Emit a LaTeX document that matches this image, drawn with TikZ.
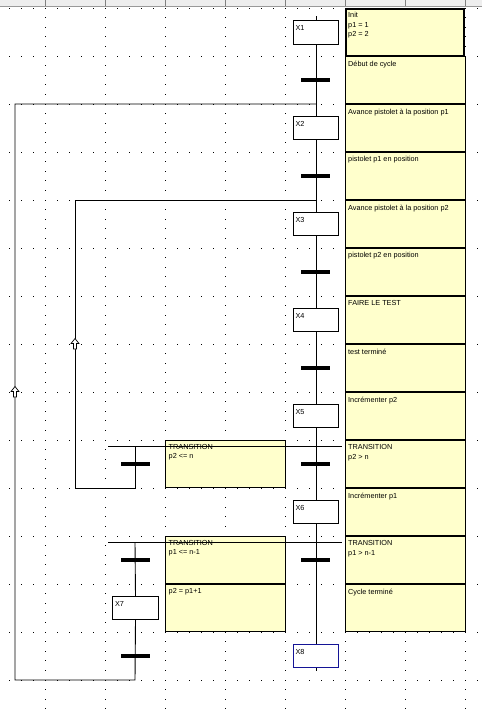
\documentclass[tikz,border=0pt]{standalone}
\usepackage{fontspec}
\setmainfont{Liberation Sans}
\definecolor{note}{RGB}{255,255,204}
\definecolor{hdr}{RGB}{238,238,238}
\definecolor{navyline}{RGB}{20,20,150}
\begin{document}
\begin{tikzpicture}[x=1pt,y=-1pt,
  wire/.style={line width=0.9pt,black},
  stepbox/.style={draw=black,line width=0.9pt,fill=white,minimum width=45.5pt,minimum height=23.5pt,inner sep=0pt},
  steplbl/.style={anchor=north west,inner sep=0pt,font=\fontsize{7.3}{9.6}\selectfont},
  tbar/.style={fill=black,minimum width=29pt,minimum height=4pt,inner sep=0pt},
  cbox/.style={draw=black,line width=0.9pt,fill=note},
  ctext/.style={anchor=north west,inner sep=0pt,align=left,font=\fontsize{7.3}{9.6}\selectfont},
  uparr/.pic={\draw[line width=0.7pt,fill=white] (0,-5.5) -- (4,-0.5) -- (1.5,-0.5) -- (1.5,5) -- (-1.5,5) -- (-1.5,-0.5) -- (-4,-0.5) -- cycle;}
]
\useasboundingbox (0,0) rectangle (482,710);
\fill[white] (0,0) rectangle (482,710);
% header bar
\fill[hdr] (0,0) rectangle (482,6.5);
\draw[gray!80,line width=0.8pt] (0,6.5) -- (482,6.5);
\foreach \x in {45,105,...,465} \draw[gray,line width=0.8pt] (\x,0) -- (\x,6);
% dot grid
\foreach \y in {8,56,...,680} \foreach \x in {9,21,...,477} \fill (\x-0.5,\y-0.5) rectangle ++(1,1);
\foreach \x in {45,105,...,465} \foreach \j in {1,...,73} \fill (\x-0.5,8+9.6*\j-0.5) rectangle ++(1,1);
% right comment boxes
\draw[cbox,line width=1.7pt] (345.8,8.8) rectangle (464.2,55.4);
\node[ctext] at (348,12) {Init\\p1 = 1\\p2 = 2};
\foreach \i/\txt in {1/{D\'ebut de cycle},2/{Avance pistolet \`a la position p1},3/{pistolet p1 en position},4/{Avance pistolet \`a la position p2},5/{pistolet p2 en position},6/{FAIRE LE TEST},7/{test termin\'e},8/{Incr\'ementer p2},9/{TRANSITION\\p2 > n},10/{Incr\'ementer p1},11/{TRANSITION\\p1 > n-1},12/{Cycle termin\'e}} {
  \draw[cbox] (345,8+48*\i+0.5) rectangle (465,8+48*\i+47.5);
  \node[ctext] at (348,8+48*\i+4.5) {\txt};
}
% left comment boxes
\draw[cbox] (165,440.5) rectangle (285,487.5);
\node[ctext] at (168.5,444) {TRANSITION\\p2 <= n};
\draw[cbox] (165,536.5) rectangle (285,583.5);
\node[ctext] at (168.5,540) {TRANSITION\\p1 <= n-1};
\draw[cbox] (165,584.5) rectangle (285,631.5);
\node[ctext] at (168.5,588.5) {p2 = p1+1};
% steps
\node[stepbox] (X1) at (316,32.5) {};
\node[stepbox] (X2) at (316,128) {};
\node[stepbox] (X3) at (316,224) {};
\node[stepbox] (X4) at (316,320) {};
\node[stepbox] (X5) at (316,416) {};
\node[stepbox] (X6) at (316,512) {};
\node[stepbox] (X7) at (135.5,608) {};
\node[stepbox,draw=navyline] (X8) at (316,656) {};
% coordinates
\coordinate (top) at (316,16);
\coordinate (bot) at (316,671);
\coordinate (d1L) at (108,446);
\coordinate (d1R) at (342,446);
\coordinate (d2L) at (108,542);
\coordinate (d2R) at (342,542);
\coordinate (b1) at (135,446);
\coordinate (c1) at (135,488);
\coordinate (c2) at (75,488);
\coordinate (c3) at (75,200);
\coordinate (j1) at (316,200);
\coordinate (b2) at (135,542);
\coordinate (e1) at (135,680);
\coordinate (e2) at (15,680);
\coordinate (e3) at (15,104);
\coordinate (j2) at (316,104);
% main sequence
\draw[wire] (top) -- (X1.north);
\draw[wire] (X1) -- (X2);
\draw[wire] (X2) -- (X3);
\draw[wire] (X3) -- (X4);
\draw[wire] (X4) -- (X5);
\draw[wire] (X5) -- (X6);
\draw[wire] (X6) -- (X8);
\draw[wire] (X8.south) -- (bot);
% divergences
\draw[wire] (d1L) -- (d1R);
\draw[wire] (d2L) -- (d2R);
% loop back 1
\draw[wire] (b1) -- (c1) -- (c2) -- (c3) -- (j1);
% branch 2 and loop back
\draw[wire] (b2) -- (X7.north);
\draw[wire] (X7.south) -- (e1) -- (e2) -- (e3) -- (j2);
% step labels
\node[steplbl] at ([shift={(2.5,5)}]X1.north west) {X1};
\node[steplbl] at ([shift={(2.5,5)}]X2.north west) {X2};
\node[steplbl] at ([shift={(2.5,5)}]X3.north west) {X3};
\node[steplbl] at ([shift={(2.5,5)}]X4.north west) {X4};
\node[steplbl] at ([shift={(2.5,5)}]X5.north west) {X5};
\node[steplbl] at ([shift={(2.5,5)}]X6.north west) {X6};
\node[steplbl] at ([shift={(2.5,5)}]X7.north west) {X7};
\node[steplbl] at ([shift={(2.5,5)}]X8.north west) {X8};
% transitions
\foreach \y/\n in {80/1,176/2,272/3,368/4,464/5,560/6} \node[tbar] (t\n) at (315.5,\y) {};
\node[tbar] (tl1) at (135.5,464) {};
\node[tbar] (tl2) at (135.5,560) {};
\node[tbar] (tl3) at (135.5,656) {};
% arrows
\pic at (75,344) {uparr};
\pic at (15,392) {uparr};
\end{tikzpicture}
\end{document}
